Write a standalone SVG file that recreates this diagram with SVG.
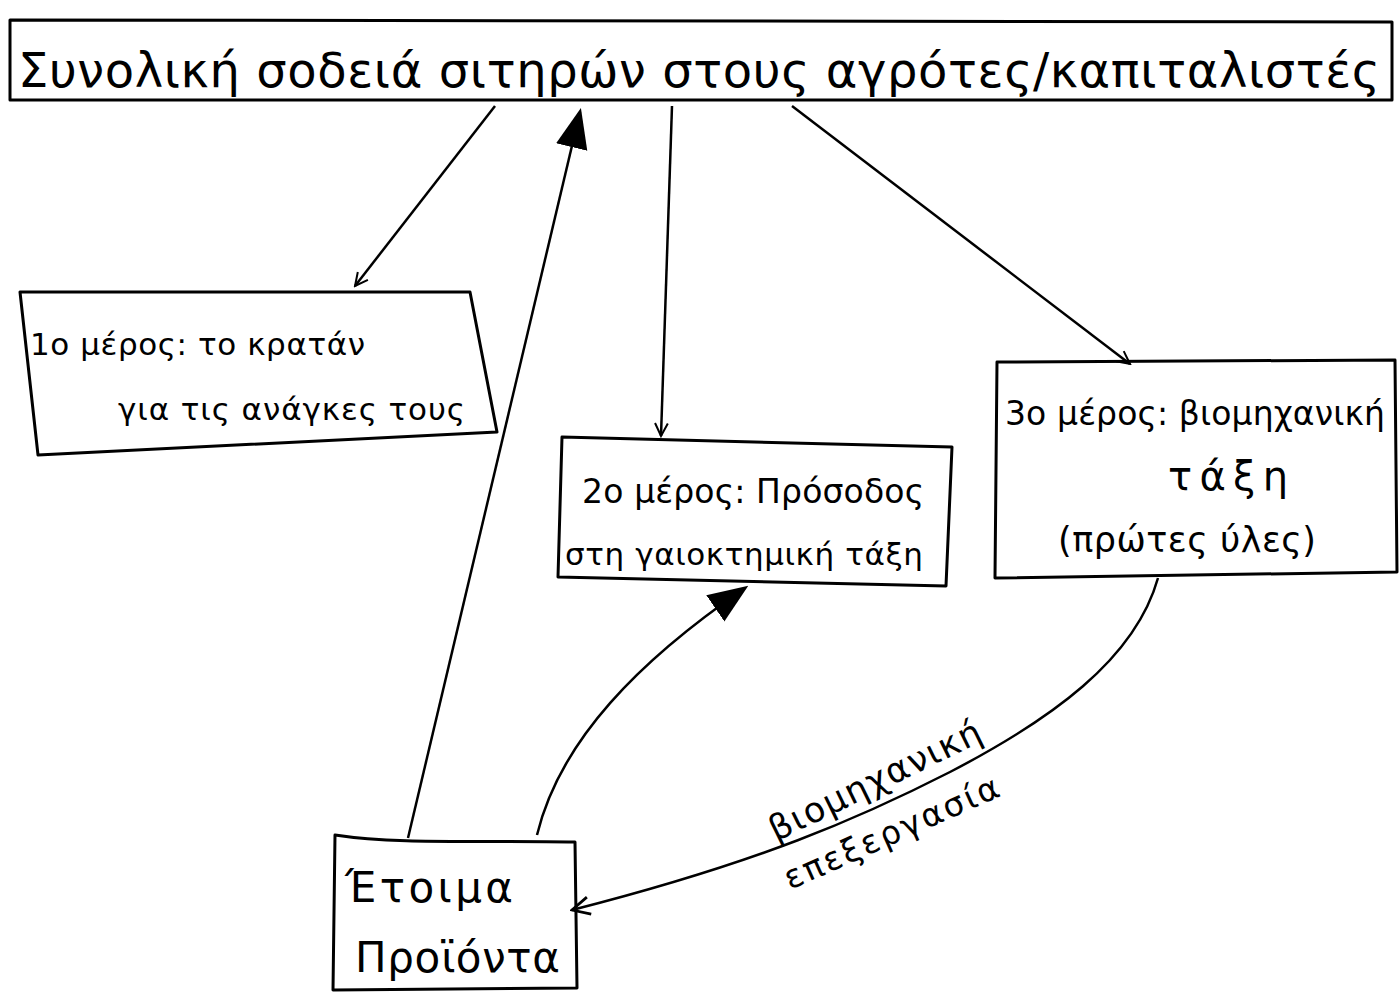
<svg xmlns="http://www.w3.org/2000/svg" width="1399" height="993" viewBox="0 0 1399 993">
<style>
.box{fill:none;stroke:#000;stroke-width:3;stroke-linejoin:round}
.ln{fill:none;stroke:#000;stroke-width:2.5}
.t{font-family:"DejaVu Sans","Noto Sans",sans-serif;fill:#000}
</style>
<defs>
<marker id="open" viewBox="0 0 20 20" refX="18" refY="10" markerWidth="16" markerHeight="16" markerUnits="userSpaceOnUse" orient="auto"><path d="M2,2 L18,10 L2,18" fill="none" stroke="#000" stroke-width="2.5"/></marker>
<marker id="openL" viewBox="0 0 20 20" refX="18" refY="10" markerWidth="22" markerHeight="22" markerUnits="userSpaceOnUse" orient="auto"><path d="M2,2 L18,10 L2,18" fill="none" stroke="#000" stroke-width="2.5"/></marker>
<marker id="fill" viewBox="0 0 20 20" refX="18" refY="10" markerWidth="40" markerHeight="40" markerUnits="userSpaceOnUse" orient="auto"><path d="M0,2 L20,10 L0,18 Z" fill="#000"/></marker>
</defs>
<rect width="1399" height="993" fill="#fff"/>
<g id="connectors">
<path class="ln" d="M495,106 L355,286" marker-end="url(#open)"/>
<path class="ln" d="M672,106 L661,436" marker-end="url(#open)"/>
<path class="ln" d="M792,106 L1130,364" marker-end="url(#open)"/>
<path class="ln" d="M408,838 L580,112" marker-end="url(#fill)"/>
<path class="ln" d="M537,835 C560,740 640,660 745,588" marker-end="url(#fill)"/>
<path class="ln" d="M1158,578 C1135,660 1050,720 950,772 C860,818 760,862 572,910" marker-end="url(#openL)"/>
<text class="t" font-size="35" textLength="232" transform="translate(776,842) rotate(-26)">βιομηχανική</text>
<text class="t" font-size="33" textLength="232" transform="translate(790,890) rotate(-24)">επεξεργασία</text>
</g>
<g id="node-top">
<path class="box" d="M10,20 L1392,22 L1392,100 L10,100 Z"/>
<text class="t" font-size="48" x="18" y="87" textLength="1362">Συνολική σοδειά σιτηρών στους αγρότες/καπιταλιστές</text>
</g>
<g id="node-1">
<path class="box" d="M20,292 L470,292 L497,432 L38,455 Z"/>
<text class="t" font-size="31" x="30" y="355" textLength="335">1ο μέρος: το κρατάν</text>
<text class="t" font-size="31" x="118" y="420" textLength="347">για τις ανάγκες τους</text>
</g>
<g id="node-2">
<path class="box" d="M562,437 L952,447 L946,586 L558,577 Z"/>
<text class="t" font-size="33" x="582" y="503" textLength="342">2ο μέρος: Πρόσοδος</text>
<text class="t" font-size="31" x="565" y="565" textLength="358">στη γαιοκτημική τάξη</text>
</g>
<g id="node-3">
<path class="box" d="M997,362 L1395,360 L1397,572 L995,578 Z"/>
<text class="t" font-size="33" x="1005" y="425" textLength="380">3ο μέρος: βιομηχανική</text>
<text class="t" font-size="40" x="1168" y="490" textLength="120">τάξη</text>
<text class="t" font-size="35" x="1058" y="552" textLength="258">(πρώτες ύλες)</text>
</g>
<g id="node-5">
<path class="box" d="M335,835 C400,845 480,840 575,842 L577,988 L333,990 Z"/>
<text class="t" font-size="42" x="345" y="902" textLength="168">Έτοιμα</text>
<text class="t" font-size="42" x="355" y="972" textLength="205">Προϊόντα</text>
</g>
</svg>
